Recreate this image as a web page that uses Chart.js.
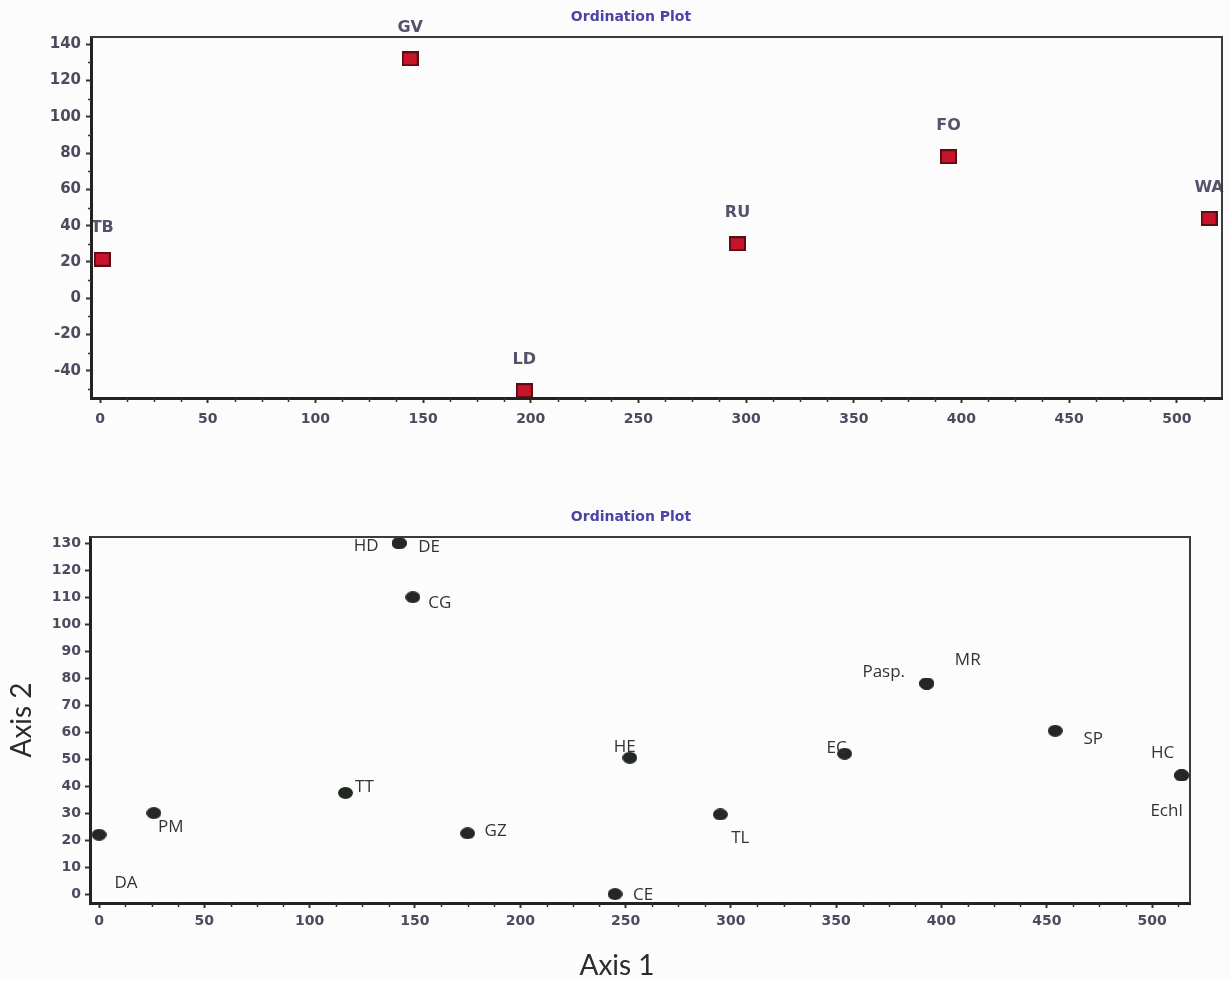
<!DOCTYPE html>
<html>
<head>
<meta charset="utf-8">
<title>Ordination Plot</title>
<script src="https://cdn.jsdelivr.net/npm/chart.js@4.4.1/dist/chart.umd.min.js"></script>
<style>
  html, body { margin: 0; padding: 0; background: #fcfcfd; }
  .panel { position: absolute; left: 0; width: 1230px; }
  #sitePanel { top: 0; height: 440px; }
  #speciesPanel { top: 490px; height: 491px; }
</style>
</head>
<body>
<div class="panel" id="sitePanel"><canvas id="siteChart" width="1230" height="440"></canvas></div>
<div class="panel" id="speciesPanel"><canvas id="speciesChart" width="1230" height="491"></canvas></div>
<script>
// Site scores
const sites = ['TB', 'GV', 'LD', 'RU', 'FO', 'WA'];
const siteAxis1 = [1, 144, 197, 296, 394, 515];
const siteAxis2 = [21.5, 132, -51, 30, 78, 44];

// Species scores (some species share a position)
const species = ['DA', 'PM', 'TT', 'HD', 'DE', 'CG', 'GZ', 'CE', 'HE', 'TL', 'EC', 'Pasp.', 'MR', 'SP', 'HC', 'Echl'];
const speciesAxis1 = [0, 26, 117, 142.5, 142.5, 149, 175, 245, 252, 295, 354, 393, 393, 454, 514, 514];
const speciesAxis2 = [22, 30, 37.5, 130, 130, 110, 22.5, 0, 50.5, 29.5, 52, 78, 78, 60.5, 44, 44];

// Tick values
const axis1Ticks = [0, 50, 100, 150, 200, 250, 300, 350, 400, 450, 500];
const siteAxis2Ticks = [-40, -20, 0, 20, 40, 60, 80, 100, 120, 140];
const speciesAxis2Ticks = [0, 10, 20, 30, 40, 50, 60, 70, 80, 90, 100, 110, 120, 130];

// label placement around each marker (dx, dy in px)
const siteLabelOffset = sites.map(() => [0, -31]);
const speciesLabelOffset = [[27, 48], [17, 14], [19, -6], [-33, 3], [30, 4], [27, 6], [28, -2], [28, 1],
  [-5, -11], [20, 24], [-8, -6], [-43, -11], [41, -23], [38, 8], [-19, -22], [-15, 36]];

const minorAxis1 = [];
for (let v = 12.5; v < 520; v += 12.5) if (v % 50 !== 0) minorAxis1.push(v);
const minorSiteAxis2 = [];
for (let v = -50; v <= 140; v += 10) if (v % 20 !== 0) minorSiteAxis2.push(v);

const tickColor = '#4d4a5e';
const titleColor = '#4b44a5';
const titleFont = 'bold 14px "DejaVu Sans"';

// marker glyphs: slightly wide square for sites, flat dot for species
function glyph(w, h, paint) {
  const c = document.createElement('canvas');
  c.width = w; c.height = h;
  paint(c.getContext('2d'), w, h);
  return c;
}
const siteGlyph = glyph(17, 15, (g, w, h) => {
  g.fillStyle = '#5a0d12';
  g.fillRect(0, 0, w, h);
  g.fillStyle = '#c8142a';
  g.fillRect(2, 2, w - 4, h - 4);
});
const speciesGlyph = glyph(15, 12, (g, w, h) => {
  g.fillStyle = '#232823';
  g.beginPath();
  g.ellipse(w / 2, h / 2, w / 2, h / 2, 0, 0, Math.PI * 2);
  g.fill();
});

// box round the plot area
const framePlugin = {
  id: 'frame',
  afterDraw(chart) {
    const { ctx, chartArea: a } = chart;
    ctx.save();
    ctx.strokeStyle = '#3a3a40';
    ctx.lineWidth = 2;
    ctx.beginPath();
    ctx.moveTo(a.left, a.top);
    ctx.lineTo(a.right, a.top);
    ctx.lineTo(a.right, a.bottom);
    ctx.stroke();
    ctx.restore();
  }
};

// short unlabelled ticks between the major ones
const minorTickPlugin = {
  id: 'minorTicks',
  afterDraw(chart, args, opts) {
    const { ctx, chartArea: a, scales } = chart;
    ctx.save();
    ctx.strokeStyle = '#333';
    ctx.lineWidth = 1.5;
    (opts.x || []).forEach(v => {
      const px = Math.round(scales.x.getPixelForValue(v)) + 0.5;
      ctx.beginPath();
      ctx.moveTo(px, a.bottom);
      ctx.lineTo(px, a.bottom + 4);
      ctx.stroke();
    });
    (opts.y || []).forEach(v => {
      const py = Math.round(scales.y.getPixelForValue(v)) + 0.5;
      ctx.beginPath();
      ctx.moveTo(a.left, py);
      ctx.lineTo(a.left - 3, py);
      ctx.stroke();
    });
    ctx.restore();
  }
};

// free-standing text: plot titles and the horizontal axis name
const captionPlugin = {
  id: 'captions',
  afterDraw(chart, args, opts) {
    const { ctx } = chart;
    ctx.save();
    ctx.textAlign = 'center';
    ctx.textBaseline = 'middle';
    (opts.items || []).forEach(c => {
      ctx.font = c.font;
      ctx.fillStyle = c.color;
      ctx.fillText(c.text, c.x, c.y);
    });
    ctx.restore();
  }
};

// names written next to the markers
const pointLabelPlugin = {
  id: 'pointLabels',
  afterDatasetsDraw(chart, args, opts) {
    const { ctx } = chart;
    const meta = chart.getDatasetMeta(0);
    ctx.save();
    ctx.font = opts.font;
    ctx.fillStyle = opts.color;
    ctx.textAlign = 'center';
    ctx.textBaseline = 'middle';
    opts.labels.forEach((name, i) => {
      const el = meta.data[i];
      const [dx, dy] = opts.offsets[i];
      ctx.fillText(name, el.x + dx, el.y + dy);
    });
    ctx.restore();
  }
};

function fixedTicks(values) {
  return scale => { scale.ticks = values.map(v => ({ value: v })); };
}

function axisCommon(extra, fontSize, pad) {
  return Object.assign({
    type: 'linear',
    grid: { drawOnChartArea: false, drawTicks: true, tickLength: 5, tickColor: '#333', tickWidth: 2 },
    border: { display: true, color: '#222', width: 3, z: 1 },
    ticks: { font: { family: 'DejaVu Sans', size: fontSize, weight: 'bold' }, color: tickColor, padding: pad }
  }, extra);
}

const siteChart = new Chart(document.getElementById('siteChart'), {
  type: 'scatter',
  data: {
    datasets: [{
      label: 'Sites',
      data: sites.map((s, i) => ({ x: siteAxis1[i], y: siteAxis2[i] })),
      pointStyle: siteGlyph,
      clip: false
    }]
  },
  options: {
    responsive: false,
    animation: false,
    layout: { padding: { left: 0, right: 8, top: 37, bottom: 0 } },
    scales: {
      x: axisCommon({
        position: 'bottom', min: -4.2, max: 521,
        afterBuildTicks: fixedTicks(axis1Ticks),
        afterFit: s => { s.height = 42; }
      }, 14, 8),
      y: axisCommon({
        position: 'left', min: -55, max: 144,
        afterBuildTicks: fixedTicks(siteAxis2Ticks),
        afterFit: s => { s.width = 91; }
      }, 15, 5)
    },
    plugins: {
      legend: { display: false },
      tooltip: { enabled: false },
      captions: {
        items: [{ text: 'Ordination Plot', x: 631, y: 17, font: titleFont, color: titleColor }]
      },
      minorTicks: { x: minorAxis1, y: minorSiteAxis2 },
      pointLabels: {
        labels: sites, offsets: siteLabelOffset,
        font: 'bold 16px "DejaVu Sans"', color: '#57526b'
      }
    }
  },
  plugins: [framePlugin, minorTickPlugin, captionPlugin, pointLabelPlugin]
});

const speciesChart = new Chart(document.getElementById('speciesChart'), {
  type: 'scatter',
  data: {
    datasets: [{
      label: 'Species',
      data: species.map((s, i) => ({ x: speciesAxis1[i], y: speciesAxis2[i] })),
      pointStyle: speciesGlyph,
      clip: false
    }]
  },
  options: {
    responsive: false,
    animation: false,
    layout: { padding: { left: 0, right: 40, top: 47, bottom: 0 } },
    scales: {
      x: axisCommon({
        position: 'bottom', min: -4.3, max: 518,
        afterBuildTicks: fixedTicks(axis1Ticks),
        afterFit: s => { s.height = 78; }
      }, 14, 5),
      y: axisCommon({
        position: 'left', min: -3.3, max: 132.3,
        afterBuildTicks: fixedTicks(speciesAxis2Ticks),
        afterFit: s => { s.width = 90; },
        title: {
          display: true, text: 'Axis 2', color: '#2b2b2b',
          font: { family: 'Lato', size: 28, lineHeight: 1 },
          padding: { top: 8, bottom: 0 }
        }
      }, 14, 4)
    },
    plugins: {
      legend: { display: false },
      tooltip: { enabled: false },
      captions: {
        items: [
          { text: 'Ordination Plot', x: 631, y: 27, font: titleFont, color: titleColor },
          { text: 'Axis 1', x: 617, y: 476, font: '28px Lato', color: '#2b2b2b' }
        ]
      },
      minorTicks: { x: minorAxis1, y: [] },
      pointLabels: {
        labels: species, offsets: speciesLabelOffset,
        font: '17px "Open Sans"', color: '#333'
      }
    }
  },
  plugins: [framePlugin, minorTickPlugin, captionPlugin, pointLabelPlugin]
});
</script>
</body>
</html>
